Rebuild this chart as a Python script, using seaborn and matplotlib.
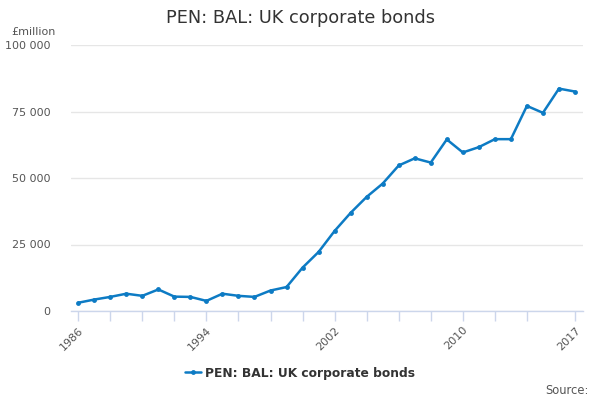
import numpy as np
import pandas as pd
import matplotlib
matplotlib.use("Agg")
import matplotlib.pyplot as plt
import seaborn as sns

# =============================
# DATA
# =============================

years = list(range(1986, 2018))
values = [3100, 4300, 5300, 6500, 5700, 8100, 5400, 5300, 3800, 6500,
          5700, 5300, 7700, 9000, 16300, 22200, 30100, 36900, 42900, 47900,
          54700, 57400, 55800, 64500, 59600, 61600, 64600, 64600, 77100, 74500,
          83600, 82500]
series_name = "PEN: BAL: UK corporate bonds"
tick_years = [1986, 1988, 1990, 1992, 1994, 1996, 1998, 2000, 2002, 2004,
              2006, 2008, 2010, 2012, 2014, 2017]
label_years = [1986, 1994, 2002, 2010, 2017]
y_ticks = [0, 25000, 50000, 75000, 100000]

df = pd.DataFrame({"year": years, "value": values})

# =============================
# PLOT
# =============================

sns.set_theme(style="white")
plt.rcParams["font.family"] = ["DejaVu Sans"]

line_color = "#0d7bc4"

fig = plt.figure(figsize=(6, 4), dpi=100)
ax = fig.add_axes([71 / 600, 1 - 311 / 400, (583 - 71) / 600, (311 - 45) / 400])

sns.lineplot(data=df, x="year", y="value", color=line_color, linewidth=1.8,
             marker="o", markersize=3.5, markeredgewidth=0, ax=ax,
             label=series_name, legend=False)

ax.set_xlim(1985.55, 2017.5)
ax.set_ylim(0, 100000)

ax.set_yticks(y_ticks)
ax.set_yticklabels([f"{v:,}".replace(",", " ") for v in y_ticks],
                   fontsize=8, color="#555555")
ax.yaxis.grid(True, color="#e6e6e6", linewidth=1)
ax.tick_params(axis="y", length=0, pad=15)

ax.set_xticks(tick_years)
ax.set_xticklabels([str(y) if y in label_years else "" for y in tick_years],
                   rotation=45, ha="right", rotation_mode="anchor",
                   fontsize=8, color="#555555")
ax.tick_params(axis="x", bottom=True, length=7, width=1, color="#ccd6eb",
               direction="out", pad=3)

for side in ["top", "right", "left"]:
    ax.spines[side].set_visible(False)
ax.spines["bottom"].set_color("#ccd6eb")
ax.spines["bottom"].set_linewidth(1)

ax.set_xlabel("")
ax.set_ylabel("")

fig.text(0.5, 1 - 18 / 400, "PEN: BAL: UK corporate bonds", ha="center", va="center",
         fontsize=12.8, color="#333333")
fig.text(11 / 600, 1 - 32 / 400, "£million", ha="left", va="center",
         fontsize=8, color="#555555")

handles, labels = ax.get_legend_handles_labels()
leg = fig.legend(handles, labels, loc="center", bbox_to_anchor=(0.5, 1 - 373 / 400),
                 frameon=False, handlelength=1.3, handletextpad=0.4,
                 prop={"weight": "bold", "size": 8.8})
for t in leg.get_texts():
    t.set_color("#333333")

fig.text(589 / 600, 1 - 390 / 400, "Source:", ha="right", va="center",
         fontsize=8.3, color="#555555")

fig.savefig("out.png", dpi=100)
